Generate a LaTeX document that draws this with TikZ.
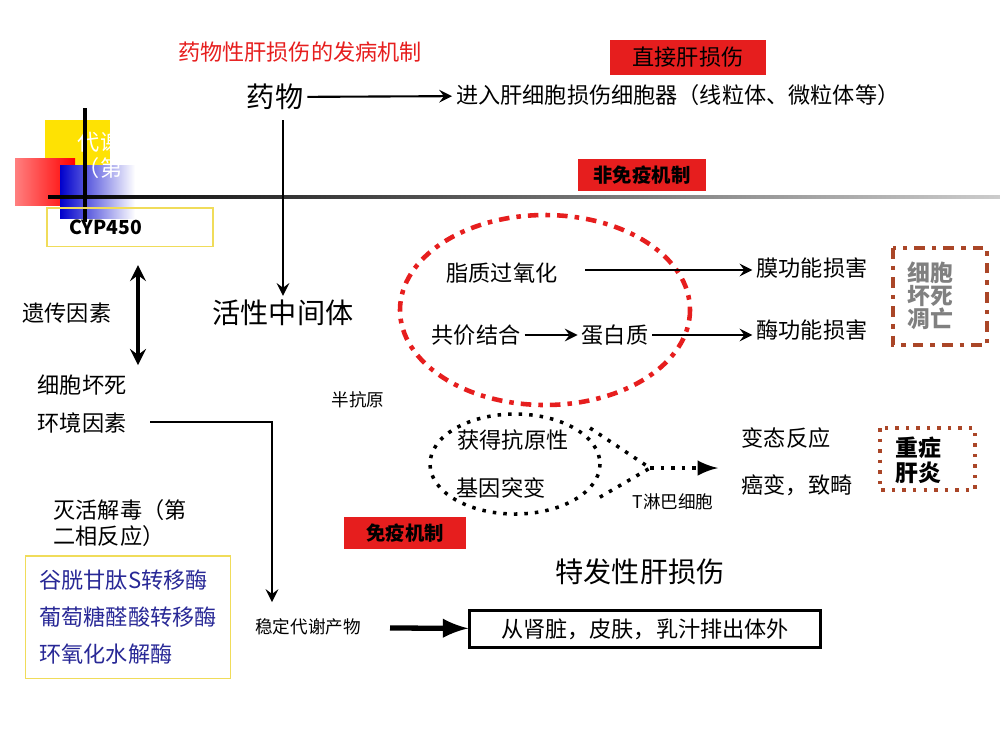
\documentclass[tikz,border=0pt]{standalone}
\usepackage{fontspec}
\setmainfont{Noto Sans CJK SC}
\usepackage{xcolor}
\definecolor{slidered}{RGB}{230, 30, 30}
\definecolor{boxyellow}{RGB}{240, 220, 90}
\definecolor{textblue}{RGB}{40, 40, 150}
\definecolor{darkbrown}{RGB}{170, 70, 40}
\usetikzlibrary{shapes,arrows,positioning,calc}

\begin{document}
\begin{tikzpicture}[x=0.01cm, y=-0.01cm,
    txt/.style={font=\fontsize{6.3}{7.5}\selectfont, inner sep=1pt},
    big/.style={font=\fontsize{8}{9}\selectfont, inner sep=1pt},
    tag/.style={rectangle, fill=slidered, font=\fontsize{5.5}{6.5}\selectfont\bfseries, inner sep=2pt},
    flow/.style={-stealth, semithick}
]
    \useasboundingbox (0,0) rectangle (1000,750);

    % background decoration
    \fill[yellow!85!orange] (45,120) rectangle (110,185);
    \shade[left color=red!50!white, right color=red] (15,158) rectangle (75,205);
    \shade[left color=blue!80!black, right color=white] (60,165) rectangle (135,218);
    \node[txt, text=white] at (100,142) {代谢};
    \node[txt, text=white] at (100,168) {（第};
    \shade[left color=black, right color=gray!40] (48,195) rectangle (1000,198);
    \draw[line width=1.2pt] (85,108) -- (85,222);

    \node[txt, text=slidered] (title) at (300,52) {药物性肝损伤的发病机制};
    \node[tag, minimum width=1.55cm, minimum height=0.35cm, font=\fontsize{6.3}{7}\selectfont] (direct) at (688,57) {直接肝损伤};
    \node[big] (drug) at (275,97) {药物};
    \node[txt, anchor=west] (enter) at (452,95) {进入肝细胞损伤细胞器（线粒体、微粒体等）};
    \draw[flow] (drug) -- (enter);

    \node[draw=boxyellow, minimum width=1.66cm, minimum height=0.35cm, font=\fontsize{5.5}{6.5}\selectfont\bfseries] (cyp) at (130,227) {\hspace*{-2.5em}CYP450};

    \node[big] (active) at (283,313) {活性中间体};
    \draw[flow] (283,120) -- (active);

    % non-immune mechanism
    \node[tag, minimum width=1.28cm, minimum height=0.3cm] (nonimm) at (642,175) {非免疫机制};
    \draw[slidered, line width=1.3pt, dash dot] (545,310) ellipse (145 and 95);
    \node[txt] (lipid) at (502,273) {脂质过氧化};
    \node[txt] (membrane) at (812,268) {膜功能损害};
    \node[txt] (covalent) at (476,335) {共价结合};
    \node[txt] (protein) at (615,335) {蛋白质};
    \node[txt] (enzyme) at (812,330) {酶功能损害};
    \draw[flow] (585,270) -- (membrane.west |- 585,270);
    \draw[flow] (covalent) -- (protein);
    \draw[flow] (protein) -- (enzyme.west |- protein);
    \draw[darkbrown, line width=1.3pt, dash dot] (893,248) rectangle (987,345);
    \node[txt, text=gray, align=left, font=\fontsize{6.5}{6.5}\selectfont\bfseries] (necro) at (930,296) {细胞\\坏死\\凋亡};

    % left column
    \node[txt] (genetic) at (67,313) {遗传因素};
    \draw[stealth-stealth, line width=1pt] (138,265) -- (138,365);
    \node[txt] (cellnec) at (82,385) {细胞坏死};
    \node[txt] (env) at (82,423) {环境因素};
    \node[txt, align=left] (inact) at (120,523) {灭活解毒（第\\二相反应）};
    \node[draw=boxyellow, txt, text=textblue, align=left, inner sep=4pt, font=\fontsize{6.3}{10.5}\selectfont] (enzymes) at (128,617) {谷胱甘肽S转移酶\\葡萄糖醛酸转移酶\\环氧化水解酶};
    \node[txt, font=\fontsize{5}{6}\selectfont] (stable) at (308,627) {稳定代谢产物};
    \draw[flow] (150,422) -- (272,422) -- (272,602);

    % immune mechanism
    \node[txt, font=\fontsize{5}{6}\selectfont] (hapten) at (358,400) {半抗原};
    \draw[dotted, line width=1pt] (515,464) ellipse (85 and 50);
    \node[txt] (antigen) at (513,440) {获得抗原性};
    \node[txt] (mutation) at (501,488) {基因突变};
    \coordinate (meet) at (650,468);
    \draw[dotted, line width=1pt] (590,428) -- (meet) -- (595,500);
    \node[txt] (allergy) at (786,438) {变态反应};
    \draw[dotted, line width=1pt, -latex] (meet) -- (718,468);
    \node[txt, font=\fontsize{5}{6}\selectfont] (tcell) at (673,502) {T淋巴细胞};
    \node[txt] (cancer) at (797,485) {癌变，致畸};
    \draw[darkbrown, line width=1pt, dotted] (880,428) rectangle (975,490);
    \node[txt, align=left, font=\fontsize{6.5}{7}\selectfont\bfseries] (hepatitis) at (918,460) {重症\\肝炎};
    \node[tag, minimum width=1.22cm, minimum height=0.32cm] (imm) at (405,533) {免疫机制};
    \node[big] (idio) at (640,572) {特发性肝损伤};

    % excretion
    \node[draw, thick, txt, minimum width=3.5cm, minimum height=0.37cm] (excrete) at (645,629) {从肾脏，皮肤，乳汁排出体外};
    \draw[-latex, line width=1.5pt] (390,628) -- (excrete);
\end{tikzpicture}
\end{document}
